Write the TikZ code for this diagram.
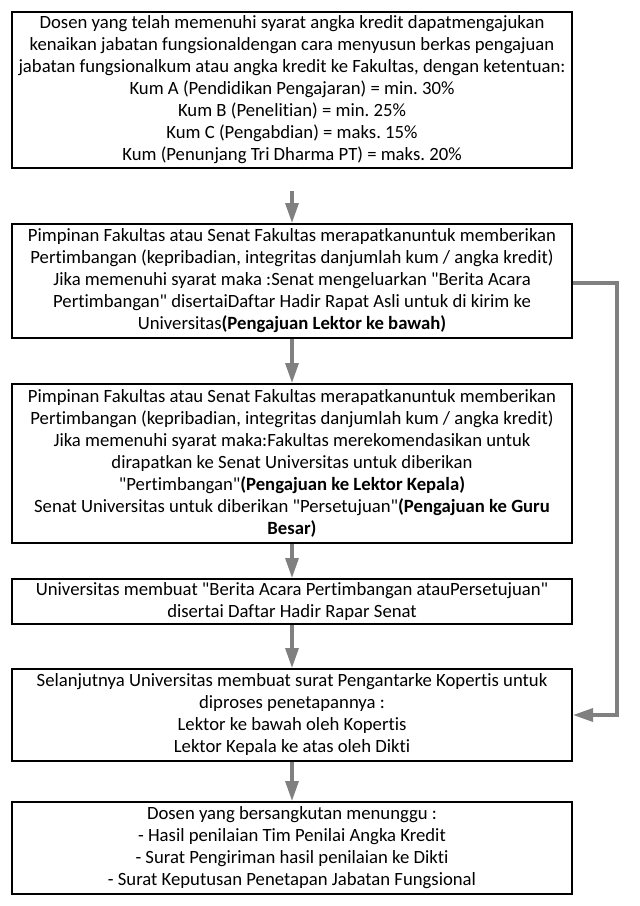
\documentclass[tikz,border=0pt]{standalone}
\usepackage{fontspec}
\setmainfont[Ligatures={TeXOff,NoCommon}]{Carlito}
\usetikzlibrary{arrows.meta}
\frenchspacing
\begin{document}
\begin{tikzpicture}[x=1pt,y=-1pt,
  box/.style={draw=black, line width=2pt, minimum width=560pt, align=center,
    inner sep=0pt, font=\fontsize{18.7}{22}\selectfont},
  flow/.style={draw={rgb,255:red,128;green,128;blue,128}, line width=3.3pt,
    -{Triangle[length=20pt,width=13pt]}}]
\useasboundingbox (0,0) rectangle (640,906);
\node[box, minimum height=156pt] (b1) at (292,90) {Dosen yang telah memenuhi syarat angka kredit dapatmengajukan\\
kenaikan jabatan fungsionaldengan cara menyusun berkas pengajuan\\
jabatan fungsionalkum atau angka kredit ke Fakultas, dengan ketentuan:\\
Kum A (Pendidikan Pengajaran) = min. 30\%\\
Kum B (Penelitian) = min. 25\%\\
Kum C (Pengabdian) = maks. 15\%\\
Kum (Penunjang Tri Dharma PT) = maks. 20\%};
\node[box, minimum height=114pt] (b2) at (292,281) {Pimpinan Fakultas atau Senat Fakultas merapatkanuntuk memberikan\\
Pertimbangan (kepribadian, integritas danjumlah kum / angka kredit)\\
Jika memenuhi syarat maka :Senat mengeluarkan "Berita Acara\\
Pertimbangan" disertaiDaftar Hadir Rapat Asli untuk di kirim ke\\
Universitas\textbf{(Pengajuan Lektor ke bawah)}};
\node[box, minimum height=159pt] (b3) at (292,463.5) {Pimpinan Fakultas atau Senat Fakultas merapatkanuntuk memberikan\\
Pertimbangan (kepribadian, integritas danjumlah kum / angka kredit)\\
Jika memenuhi syarat maka:Fakultas merekomendasikan untuk\\
dirapatkan ke Senat Universitas untuk diberikan\\
"Pertimbangan"\textbf{(Pengajuan ke Lektor Kepala)}\\
Senat Universitas untuk diberikan "Persetujuan"\textbf{(Pengajuan ke Guru}\\
\textbf{Besar)}};
\node[box, minimum height=45pt] (b4) at (292,601.5) {Universitas membuat "Berita Acara Pertimbangan atauPersetujuan"\\
disertai Daftar Hadir Rapar Senat};
\node[box, minimum height=92pt] (b5) at (292,715) {Selanjutnya Universitas membuat surat Pengantarke Kopertis untuk\\
diproses penetapannya :\\
Lektor ke bawah oleh Kopertis\\
Lektor Kepala ke atas oleh Dikti};
\node[box, minimum height=92pt] (b6) at (292,848) {Dosen yang bersangkutan menunggu :\\
- Hasil penilaian Tim Penilai Angka Kredit\\
- Surat Pengiriman hasil penilaian ke Dikti\\
- Surat Keputusan Penetapan Jabatan Fungsional};
\draw[flow, shorten <=22pt] (b1) -- (b2);
\draw[flow] (b2) -- (b3);
\draw[flow] (b3) -- (b4);
\draw[flow] (b4) -- (b5);
\draw[flow] (b5) -- (b6);
\coordinate (c1) at (617,283);
\draw[flow] (b2.east |- c1) -- (c1) |- (b5.east);
\end{tikzpicture}
\end{document}
